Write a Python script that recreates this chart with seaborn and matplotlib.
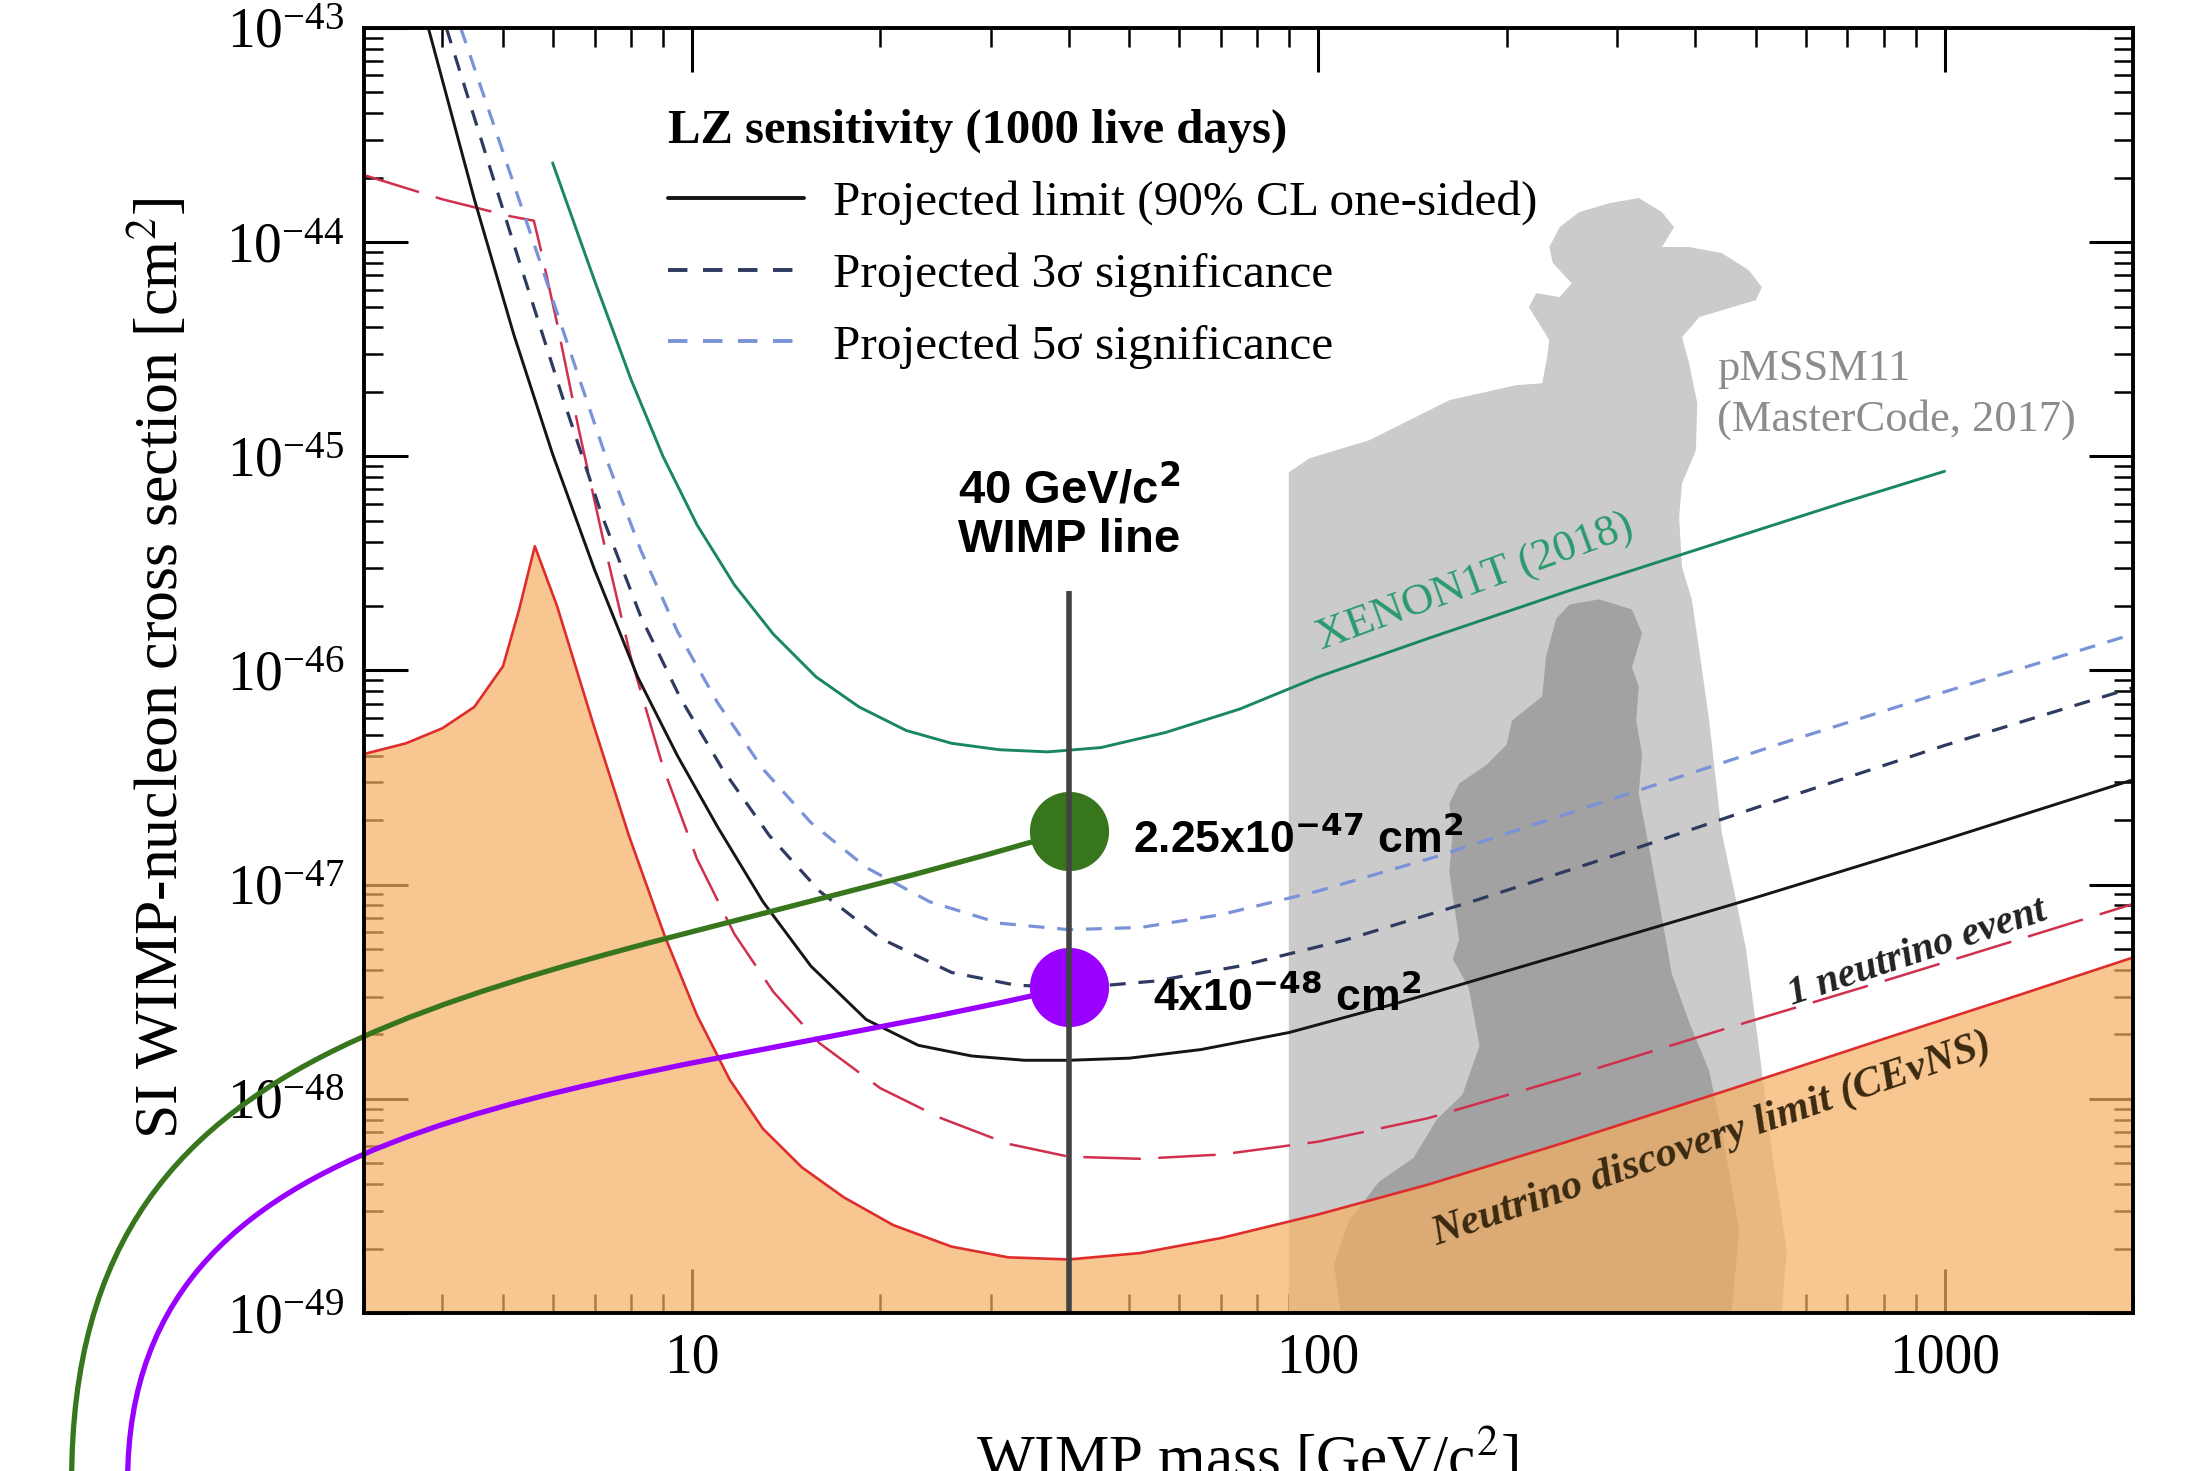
import numpy as np
import matplotlib
matplotlib.use("Agg")
from matplotlib import pyplot as plt
from matplotlib import ticker
from matplotlib.lines import Line2D
from matplotlib.path import Path
from matplotlib.patches import PathPatch
import seaborn as sns

# masses in GeV/c^2, cross sections as log10(sigma / cm^2)
limit_mass = [3.8, 4.5, 5.2, 6.0, 7.0, 8.2, 9.5, 11, 13, 15.5, 19, 23, 28, 34, 40, 50, 65, 90,
              135, 250, 500, 1000, 2000]
limit_log = [-43.0, -43.80, -44.43, -44.99, -45.53, -46.03, -46.40, -46.73, -47.08, -47.38,
             -47.63, -47.75, -47.80, -47.82, -47.82, -47.81, -47.77, -47.69, -47.55, -47.32,
             -47.06, -46.79, -46.51]

sig3_mass = [4.06, 5.19, 6.2, 7.2, 8.3, 9.6, 11.2, 13.3, 16, 20, 26, 33, 42, 55, 75, 110, 180,
             300, 550, 1000, 2000]
sig3_log = [-43.0, -44.0, -44.71, -45.28, -45.75, -46.13, -46.46, -46.77, -47.03, -47.25, -47.41,
            -47.47, -47.48, -47.45, -47.38, -47.26, -47.07, -46.86, -46.60, -46.35, -46.08]

sig5_mass = [4.28, 5.0, 5.71, 6.5, 7.35, 8.3, 9.5, 11, 13, 15.5, 19, 24, 31, 40, 52, 70, 100,
             154, 281, 550, 1000, 2000]
sig5_log = [-43.0, -43.58, -44.08, -44.57, -45.03, -45.44, -45.82, -46.15, -46.46, -46.71, -46.92,
            -47.08, -47.18, -47.21, -47.20, -47.14, -47.03, -46.87, -46.62, -46.34, -46.10, -45.83]

xenon_mass = [6.0, 7.0, 8.0, 9.0, 10.2, 11.7, 13.5, 15.8, 18.5, 22, 26, 31, 37, 45, 57, 75, 100,
              150, 250, 450, 700, 1000]
xenon_log = [-43.63, -44.18, -44.64, -45.00, -45.32, -45.60, -45.83, -46.03, -46.17, -46.28,
             -46.34, -46.37, -46.38, -46.36, -46.29, -46.18, -46.03, -45.85, -45.63, -45.39,
             -45.21, -45.07]

nu1_mass = [3.0, 4.0, 5.15, 5.6, 5.75, 6.1, 6.6, 7.2, 8.0, 9.0, 10.2, 11.7, 13.5, 16, 20, 25, 32,
            40, 52, 70, 100, 150, 250, 450, 800, 1300, 2000]
nu1_log = [-43.687, -43.80, -43.88, -43.90, -44.04, -44.38, -44.87, -45.37, -45.94, -46.45,
           -46.88, -47.23, -47.50, -47.74, -47.95, -48.09, -48.21, -48.27, -48.28, -48.26,
           -48.20, -48.09, -47.90, -47.67, -47.45, -47.26, -47.09]

floor_mass = [3.0, 3.5, 4.0, 4.5, 5.0, 5.3, 5.62, 6.1, 6.95, 7.94, 9.06, 10.2, 11.5, 13, 15,
              17.5, 21, 26, 32, 40, 52, 70, 100, 150, 250, 450, 800, 1300, 2000]
floor_log = [-46.39, -46.34, -46.27, -46.17, -45.98, -45.72, -45.42, -45.70, -46.24, -46.77,
             -47.24, -47.61, -47.91, -48.14, -48.32, -48.46, -48.59, -48.69, -48.74, -48.75,
             -48.72, -48.65, -48.54, -48.40, -48.20, -47.96, -47.72, -47.52, -47.34]

# pMSSM11 regions (outlines)
pm_light_mass = [89.8, 89.8, 96.9, 120.7, 162, 207, 228, 232, 234, 217, 223, 243, 254, 237,
                 234, 243, 261, 292, 325, 354, 370, 354, 391, 441, 487, 511, 500, 458, 406,
                 381, 391, 403, 401, 381, 377, 381, 395, 406, 421, 441, 465, 482, 505, 530,
                 560, 545]
pm_light_log = [-49.13, -45.075, -45.009, -44.925, -44.738, -44.668, -44.659, -44.537, -44.458,
                -44.304, -44.238, -44.257, -44.192, -44.098, -44.023, -43.930, -43.860, -43.818,
                -43.794, -43.860, -43.930, -44.023, -44.023, -44.051, -44.131, -44.210, -44.271,
                -44.304, -44.350, -44.444, -44.565, -44.752, -44.972, -45.126, -45.285, -45.519,
                -45.668, -45.907, -46.234, -46.757, -47.075, -47.299, -47.752, -48.243, -48.710,
                -49.13]
pm_dark_mass = [240, 252, 281, 317, 329, 317, 325, 322, 329, 325, 334, 350, 367, 391, 421, 444,
                470, 453, 111, 108, 106, 112, 125, 142, 155, 170, 181, 174, 164, 168, 162, 164,
                162, 168, 186, 200, 204, 228, 231]
pm_dark_log = [-45.757, -45.692, -45.668, -45.715, -45.827, -45.986, -46.075, -46.234, -46.393,
               -46.575, -46.757, -47.075, -47.416, -47.640, -47.869, -48.196, -48.617, -49.131,
               -49.131, -48.944, -48.776, -48.570, -48.388, -48.276, -48.093, -47.981, -47.752,
               -47.481, -47.346, -47.257, -46.939, -46.757, -46.621, -46.528, -46.439, -46.346,
               -46.234, -46.121, -45.939]

# 40 GeV WIMP line, marked points and their hand-drawn connectors (Bezier control points)
wimp_mass = 40
wimp_top_log = -45.63
dot_log = [-46.75, -47.48]
dot_labels = [r"2.25x10$^{\mathbf{-47}}$ cm$^{\mathbf{2}}$", r"4x10$^{\mathbf{-48}}$ cm$^{\mathbf{2}}$"]
green_path_mass = [40, 4.96, 1.024, 1.024]
green_path_log = [-46.75, -47.54, -47.54, -49.79]
purple_path_mass = [40, 7.16, 1.258, 1.258]
purple_path_log = [-47.48, -47.99, -47.99, -49.79]

x_ticks = [10, 100, 1000]
x_tick_labels = ["10", "100", "1000"]
legend_title = "LZ sensitivity (1000 live days)"
legend_labels = ["Projected limit (90% CL one-sided)", "Projected 3σ significance",
                 "Projected 5σ significance"]


def xs(logs):
    return np.power(10.0, np.asarray(logs, dtype=float))


sns.set_style("ticks")
plt.rcParams["font.family"] = ["Liberation Serif", "DejaVu Serif"]
plt.rcParams["mathtext.fontset"] = "stix"
plt.rcParams.update({"text.color": "black", "axes.labelcolor": "black",
                     "xtick.color": "black", "ytick.color": "black",
                     "axes.edgecolor": "black"})

c_limit, c_sig3, c_sig5 = "#151515", "#2e3a60", "#7a93d8"
c_xenon, c_floor, c_nu1 = "#1a8760", "#df2c2c", "#d12f4f"
c_green, c_purple = "#38761d", "#9900ff"
dash_short = (0, (5, 4))

fig = plt.figure(figsize=(22.05, 14.71), dpi=100)
ax = fig.add_axes([0.1651, 0.1074, 0.8023, 0.8736])
ax.set_xscale("log")
ax.set_yscale("log")

ax.fill(pm_light_mass, xs(pm_light_log), color="#cbcbcb", lw=0, zorder=1)
ax.fill(pm_dark_mass, xs(pm_dark_log), color="#a2a2a2", lw=0, zorder=1.1)
ax.fill_between(floor_mass, xs(floor_log), 1e-50, color="#f6b062", alpha=0.7, lw=0, zorder=2)

kw = dict(ax=ax, estimator=None, sort=False, legend=False, zorder=3)
sns.lineplot(x=nu1_mass, y=xs(nu1_log), color=c_nu1, linewidth=1.8, linestyle=(0, (23, 7)), **kw)
sns.lineplot(x=floor_mass, y=xs(floor_log), color=c_floor, linewidth=1.9, **kw)
sns.lineplot(x=xenon_mass, y=xs(xenon_log), color=c_xenon, linewidth=2.1, **kw)
sns.lineplot(x=sig5_mass, y=xs(sig5_log), color=c_sig5, linewidth=2.3, linestyle=dash_short, **kw)
sns.lineplot(x=sig3_mass, y=xs(sig3_log), color=c_sig3, linewidth=2.3, linestyle=dash_short, **kw)
sns.lineplot(x=limit_mass, y=xs(limit_log), color=c_limit, linewidth=2.1, **kw)

# labels on the plot
ax.text(434, xs(-44.50), "pMSSM11\n(MasterCode, 2017)", color="#8c8c8c", fontsize=32,
        ha="left", va="top", linespacing=1.32, zorder=4)
ax.text(178, xs(-45.59), "XENON1T (2018)", color="#2a9a6e", fontsize=32, rotation=20,
        ha="center", va="center", rotation_mode="anchor", zorder=4)
ax.text(906, xs(-47.32), "1 neutrino event", color="#222222", fontsize=29, rotation=18.5,
        style="italic", weight="bold", ha="center", va="center", rotation_mode="anchor", zorder=4)
ax.text(426, xs(-48.19), "Neutrino discovery limit (CEνNS)", color="#3b2a10", fontsize=30.5,
        rotation=19, style="italic", weight="bold", ha="center", va="center",
        rotation_mode="anchor", zorder=4)

# connectors from the figure edge to the marked points
for pm, pl, col in ((green_path_mass, green_path_log, c_green),
                    (purple_path_mass, purple_path_log, c_purple)):
    verts = np.column_stack([pm, xs(pl)])
    codes = [Path.MOVETO, Path.CURVE4, Path.CURVE4, Path.CURVE4]
    ax.add_patch(PathPatch(Path(verts, codes), fill=False, edgecolor=col, lw=3.8,
                           transform=ax.transData, clip_on=False, zorder=6))

for lg, col in zip(dot_log, (c_green, c_purple)):
    ax.plot([wimp_mass], [xs(lg)], marker="o", ms=57, color=col, mew=0, clip_on=False, zorder=7)
ax.vlines(wimp_mass, 1e-49, xs(wimp_top_log), colors="#434343", linewidth=4, zorder=8)

sans = dict(family=["Liberation Sans", "DejaVu Sans"], weight="bold", math_fontfamily="dejavusans")
ax.text(wimp_mass, xs(-45.27), "40 GeV/c$^{\\mathbf{2}}$\nWIMP line", fontsize=34, ha="center",
        va="center", linespacing=1.15, zorder=9, **sans)
ax.text(50.6, xs(-46.79), dot_labels[0], fontsize=32, ha="left", va="center", zorder=9, **sans)
ax.text(54.5, xs(-47.53), dot_labels[1], fontsize=32, ha="left", va="center", zorder=9, **sans)

handles = [Line2D([], [], color=c_limit, lw=2.8),
           Line2D([], [], color=c_sig3, lw=2.8, linestyle=dash_short),
           Line2D([], [], color=c_sig5, lw=2.8, linestyle=dash_short)]
ax.legend(handles, legend_labels, title=legend_title, loc="upper left",
          bbox_to_anchor=(0.172, 0.937), frameon=False, fontsize=35.5,
          title_fontproperties={"weight": "bold", "size": 35}, alignment="left",
          handlelength=2.75, handletextpad=0.6, labelspacing=0.55, borderpad=0, borderaxespad=0)

ax.set_xlim(3, 2000)
ax.set_ylim(1e-49, 1e-43)
ax.xaxis.set_major_locator(ticker.FixedLocator(x_ticks))
ax.xaxis.set_major_formatter(ticker.FixedFormatter(x_tick_labels))
ax.xaxis.set_minor_locator(ticker.LogLocator(base=10, subs=np.arange(2, 10)))
ax.xaxis.set_minor_formatter(ticker.NullFormatter())
ax.yaxis.set_major_locator(ticker.LogLocator(base=10, numticks=12))
ax.yaxis.set_minor_locator(ticker.LogLocator(base=10, subs=np.arange(2, 10), numticks=12))
ax.yaxis.set_minor_formatter(ticker.NullFormatter())

ax.tick_params(which="both", direction="in", top=True, right=True)
ax.tick_params(which="major", length=32, width=2.2, labelsize=40, pad=14)
ax.tick_params(which="minor", length=14, width=1.8)
for sp in ax.spines.values():
    sp.set_linewidth(2.8)
    sp.set_color("black")
    sp.set_zorder(10)

ax.set_xlabel(r"WIMP mass [GeV/c$^2$]", fontsize=44)
ax.xaxis.set_label_coords(0.499, -0.089)
ax.set_ylabel(r"SI WIMP-nucleon cross section [cm$^2$]", fontsize=44.5)
ax.yaxis.set_label_coords(-0.098, 0.502)

fig.savefig("out.png", dpi=100)
